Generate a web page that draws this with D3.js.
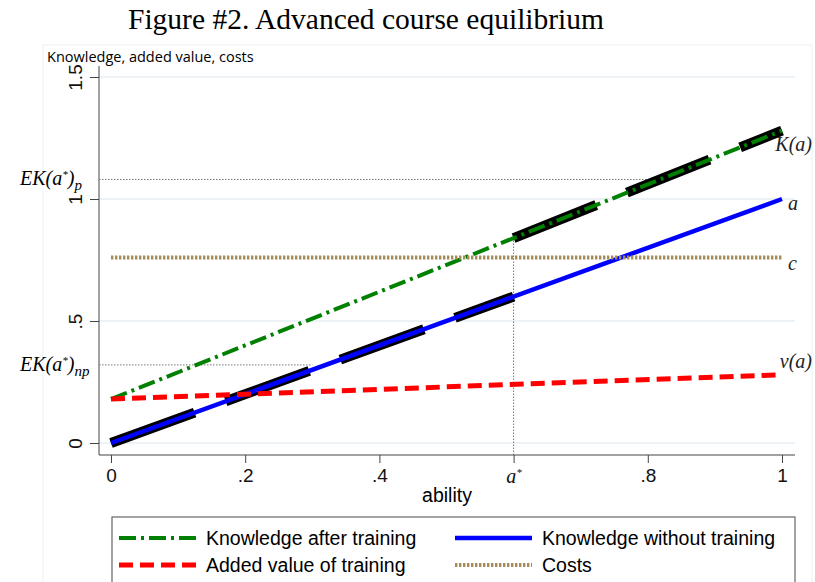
<!DOCTYPE html>
<html>
<head>
<meta charset="utf-8">
<script src="https://cdn.jsdelivr.net/npm/d3@7"></script>
<style>
	body { margin: 0; background: #fff; }
	svg { display: block; }
</style>
</head>
<body>
<div id="chart"></div>
<script>
// values
var ability = [0, 1];
var knowledgeAfter = [0.18, 1.28];
var knowledgeWithout = [0, 1];
var addedValue = [0.18, 0.28];
var costs = [0.76, 0.76];

// equilibrium knowledge (thick black dashes)
var eqLowAbility = [0, 0.6];
var eqLowKnowledge = [0, 0.6];
var eqHighAbility = [0.6, 1];
var eqHighKnowledge = [0.84, 1.28];

var aStar = 0.6;
var ekLevels = [1.08, 0.32];
var ekEnds = [0.8, 0.3];
var ekLabels = ["p", "np"];

var xTicks = [0, 0.2, 0.4, 0.6, 0.8, 1];
var xTickLabels = ["0", ".2", ".4", "a*", ".8", "1"];
var yTicks = [0, 0.5, 1, 1.5];
var yTickLabels = ["0", ".5", "1", "1.5"];

var legendNames = ["Knowledge after training", "Knowledge without training", "Added value of training", "Costs"];

var width = 815, height = 582;
var sans = "'Liberation Sans', Arial, sans-serif";
var serif = "'Liberation Serif', 'Times New Roman', serif";

var svg = d3.select("#chart").append("svg")
	.attr("width", width)
	.attr("height", height);

// faint outer graph border
svg.append("rect")
	.attr("x", 43).attr("y", 45)
	.attr("width", 769).attr("height", 560)
	.attr("fill", "none")
	.attr("stroke", "#eef0f2")
	.attr("stroke-width", 1);

var x = d3.scaleLinear().domain([0, 1]).range([111, 782]);
var y = d3.scaleLinear().domain([0, 1.5]).range([443, 77]);
var plot = { left: 99, right: 795, top: 66, bottom: 455 };

svg.append("text")
	.attr("x", 366).attr("y", 29)
	.attr("text-anchor", "middle")
	.attr("font-family", serif)
	.attr("font-size", 29.5)
	.text("Figure #2. Advanced course equilibrium");

svg.append("text")
	.attr("x", 47).attr("y", 62)
	.attr("font-family", "'Open Sans', sans-serif")
	.attr("font-size", 14.5)
	.text("Knowledge, added value, costs");

// gridlines
svg.selectAll(".grid").data(yTicks).enter().append("line")
	.attr("class", "grid")
	.attr("x1", plot.left).attr("x2", plot.right)
	.attr("y1", function (d) { return y(d); })
	.attr("y2", function (d) { return y(d); })
	.attr("stroke", "#e6eef2")
	.attr("stroke-width", 1.5);

// axes
var yAxis = svg.append("g")
	.attr("transform", "translate(" + plot.left + ",0)")
	.call(d3.axisLeft(y).tickValues(yTicks).tickSize(9).tickFormat(function (d, i) { return yTickLabels[i]; }));
yAxis.select(".domain").attr("d", "M0," + plot.top + "V" + plot.bottom).attr("stroke", "#444");
yAxis.selectAll(".tick line").attr("stroke", "#444");
yAxis.selectAll(".tick text")
	.attr("font-family", sans)
	.attr("font-size", 19)
	.attr("fill", "#111")
	.attr("x", 0).attr("dy", 0)
	.attr("text-anchor", "middle")
	.attr("transform", "translate(-17,0) rotate(-90)");

var xAxis = svg.append("g")
	.attr("transform", "translate(0," + plot.bottom + ")")
	.call(d3.axisBottom(x).tickValues(xTicks).tickSize(8).tickFormat(function (d, i) { return xTickLabels[i]; }));
xAxis.select(".domain").attr("d", "M" + plot.left + ",0H" + plot.right).attr("stroke", "#444");
xAxis.selectAll(".tick line").attr("stroke", "#444");
xAxis.selectAll(".tick text")
	.attr("font-family", sans)
	.attr("font-size", 19)
	.attr("fill", "#111")
	.attr("y", 14);

// a* label is italic math
xAxis.selectAll(".tick text").filter(function (d, i) { return xTickLabels[i] == "a*"; })
	.text(null)
	.attr("font-family", serif)
	.attr("font-style", "italic")
	.attr("font-size", 20)
	.call(function (t) {
		t.append("tspan").text("a");
		t.append("tspan").attr("dy", -7).attr("font-size", 11).text("*");
	});

svg.append("text")
	.attr("x", 447).attr("y", 502)
	.attr("text-anchor", "middle")
	.attr("font-family", sans)
	.attr("font-size", 19.5)
	.text("ability");

// reference dotted lines
ekLevels.forEach(function (lv, i) {
	svg.append("line")
		.attr("x1", plot.left).attr("x2", x(ekEnds[i]))
		.attr("y1", y(lv)).attr("y2", y(lv))
		.attr("stroke", "#777")
		.attr("stroke-width", 1)
		.attr("stroke-dasharray", "1.5,1.5");
	var t = svg.append("text")
		.attr("x", 20)
		.attr("y", y(lv) + 6)
		.attr("font-family", serif)
		.attr("font-style", "italic")
		.attr("font-size", 20);
	t.append("tspan").text("EK(a");
	t.append("tspan").attr("dy", -7).attr("font-size", 11).text("*");
	t.append("tspan").attr("dy", 7).text(")");
	t.append("tspan").attr("dy", 5).attr("font-size", 15).text(ekLabels[i]);
});

svg.append("line")
	.attr("x1", x(aStar)).attr("x2", x(aStar))
	.attr("y1", plot.bottom).attr("y2", y(eqHighKnowledge[0]))
	.attr("stroke", "#777")
	.attr("stroke-width", 1)
	.attr("stroke-dasharray", "1.5,1.5");

var line = d3.line()
	.x(function (d) { return x(d[0]); })
	.y(function (d) { return y(d[1]); });

function pairs(xs, ys) {
	return xs.map(function (v, i) { return [v, ys[i]]; });
}

// thick black equilibrium dashes, under the coloured lines
[pairs(eqLowAbility, eqLowKnowledge), pairs(eqHighAbility, eqHighKnowledge)].forEach(function (seg) {
	svg.append("path")
		.attr("d", line(seg))
		.attr("fill", "none")
		.attr("stroke", "#000")
		.attr("stroke-width", 10)
		.attr("stroke-dasharray", "89,33");
});

var series = [
	{ vals: knowledgeAfter, color: "#008000", width: 4, dash: "17,5,3,5" },
	{ vals: knowledgeWithout, color: "#0000ff", width: 4.5, dash: null },
	{ vals: addedValue, color: "#ff0000", width: 5, dash: "14,7" },
	{ vals: costs, color: "#a38b55", width: 4, dash: "2.4,1.6" }
];

series.forEach(function (s) {
	svg.append("path")
		.attr("d", line(pairs(ability, s.vals)))
		.attr("fill", "none")
		.attr("stroke", s.color)
		.attr("stroke-width", s.width)
		.attr("stroke-dasharray", s.dash);
});

// right-hand curve labels
var endLabels = [
	{ v: knowledgeAfter[1], text: "K(a)", dy: 20, x: 812, anchor: "end" },
	{ v: knowledgeWithout[1], text: "a", dy: 11, x: 788, anchor: "start" },
	{ v: costs[1], text: "c", dy: 12, x: 788, anchor: "start" },
	{ v: addedValue[1], text: "v(a)", dy: -7, x: 812, anchor: "end" }
];
endLabels.forEach(function (l) {
	svg.append("text")
		.attr("x", l.x)
		.attr("y", y(l.v) + l.dy)
		.attr("text-anchor", l.anchor)
		.attr("font-family", serif)
		.attr("font-style", "italic")
		.attr("font-size", 20)
		.attr("fill", "#222")
		.text(l.text);
});

// legend
var legend = svg.append("g");
legend.append("rect")
	.attr("x", 112).attr("y", 517)
	.attr("width", 683).attr("height", 80)
	.attr("fill", "#fff")
	.attr("stroke", "#666")
	.attr("stroke-width", 1.2);

var legendPos = [[119, 538], [455, 538], [119, 565], [455, 565]];
series.forEach(function (s, i) {
	var p = legendPos[i];
	legend.append("line")
		.attr("x1", p[0]).attr("x2", p[0] + 77)
		.attr("y1", p[1]).attr("y2", p[1])
		.attr("stroke", s.color)
		.attr("stroke-width", s.width)
		.attr("stroke-dasharray", s.dash);
	legend.append("text")
		.attr("x", p[0] + 87).attr("y", p[1] + 7)
		.attr("font-family", sans)
		.attr("font-size", 19.5)
		.text(legendNames[i]);
});
</script>
</body>
</html>
